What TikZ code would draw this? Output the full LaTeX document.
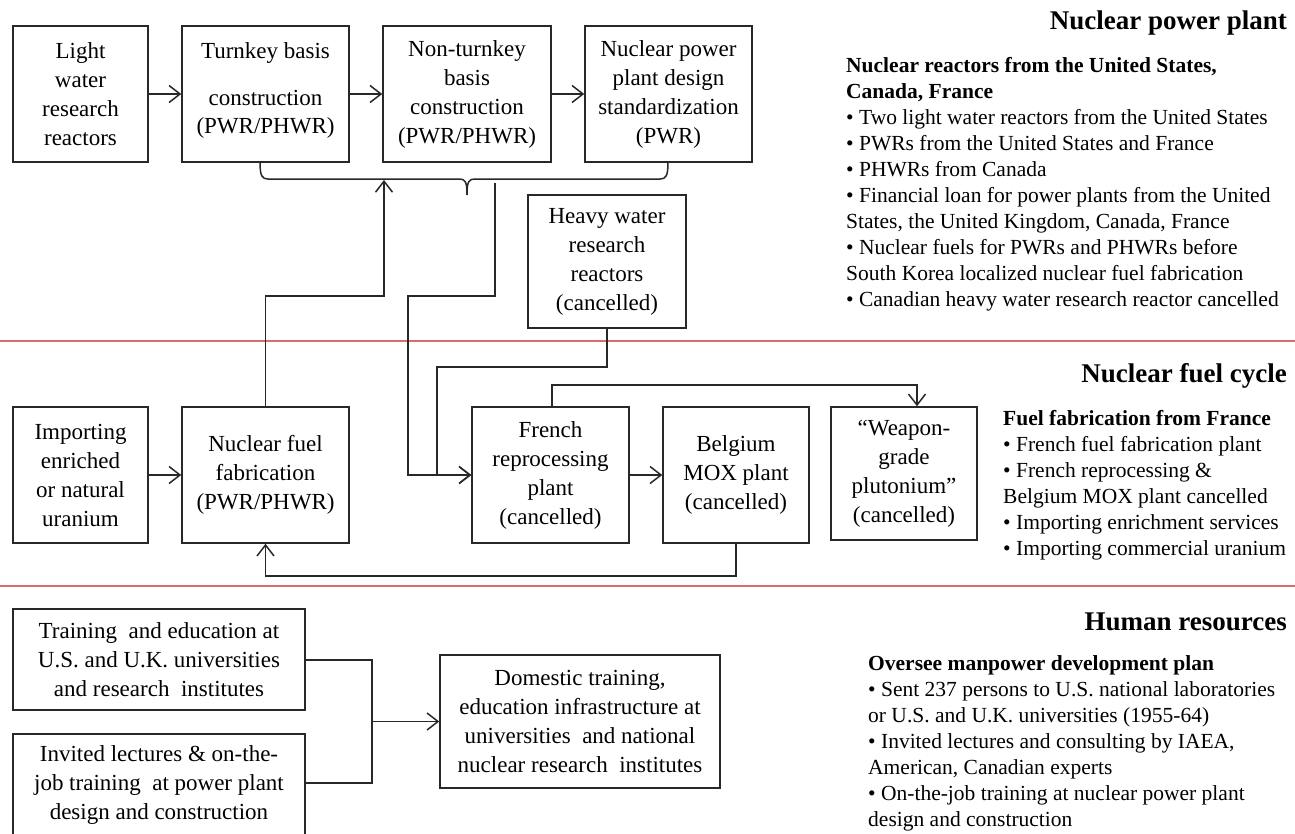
\documentclass[tikz,border=0pt]{standalone}
\usepackage{fontspec}
\setmainfont{Liberation Serif}
\usetikzlibrary{arrows.meta}
\definecolor{linegray}{RGB}{40,40,40}
\definecolor{seprule}{RGB}{214,110,110}
\begin{document}
\begin{tikzpicture}[x=1pt,y=-1pt,
  box/.style={draw=linegray,line width=1.5pt,inner sep=2pt,align=center,
    font=\fontsize{23}{29}\selectfont,minimum width=#1},
  box/.default=150pt,
  conn/.style={draw=linegray,line width=1.5pt},
  arr/.style={conn,-{Straight Barb[length=11pt,width=17pt,line width=1.5pt]}},
  sepline/.style={draw=seprule,line width=1.2pt},
  head/.style={font=\fontsize{27}{32}\selectfont\bfseries,anchor=base east,inner sep=0pt},
  notes/.style={font=\fontsize{21.5}{26}\selectfont,anchor=north west,inner sep=0pt,align=left}]
\useasboundingbox (0,0) rectangle (1295,833);

% section separators
\draw[sepline] (0,341) -- (1295,341);
\draw[sepline] (0,586) -- (1295,586);

% nuclear power plant row
\node[box=135pt,minimum height=136pt] (lw)  at (80.5,94)  {Light\\water\\research\\reactors};
\node[box=167pt,minimum height=136pt] (tk)  at (265.5,94) {Turnkey basis\\[18pt]construction\\[-1pt](PWR/PHWR)\\[-18pt]\mbox{}};
\node[box=168pt,minimum height=136pt] (nt)  at (467,94)   {Non-turnkey\\basis\\construction\\(PWR/PHWR)};
\node[box=167pt,minimum height=136pt] (std) at (668.5,94) {Nuclear power\\plant design\\standardization\\(PWR)};
\node[box=158pt,minimum height=133pt] (hw)  at (607,261.5) {Heavy water\\research\\reactors\\(cancelled)};

% nuclear fuel cycle row
\node[box=135pt,minimum height=136pt] (imp) at (80.5,475)  {Importing\\enriched\\or natural\\uranium};
\node[box=167pt,minimum height=136pt] (fab) at (265.5,475) {Nuclear fuel\\fabrication\\(PWR/PHWR)};
\node[box=157pt,minimum height=136pt] (fr)  at (550.5,475) {French\\reprocessing\\plant\\(cancelled)};
\node[box=146pt,minimum height=136pt] (be)  at (736,475)   {Belgium\\MOX plant\\(cancelled)};
\node[box=146pt,minimum height=133pt] (wp)  at (904,473.5) {“Weapon-\\grade\\plutonium”\\(cancelled)};

% human resources row
\node[box=292pt,minimum height=101pt] (tr)  at (159,659.5) {Training\ \ and education at\\U.S. and U.K. universities\\and research\ \ institutes};
\node[box=292pt,minimum height=101pt] (inv) at (159,784.5) {Invited lectures \& on-the-\\job training\ \ at power plant\\design and construction};
\node[box=280pt,minimum height=133pt] (dom) at (580,721.5) {Domestic training,\\education infrastructure at\\universities\ \ and national\\nuclear research\ \ institutes};

% brace gathering the reactor construction stages
\coordinate (brL) at (260,162);
\coordinate (brR) at (668,162);
\coordinate (brTip) at (467,195);
\coordinate (brIn) at (384,180);
\coordinate (brOut) at (495,183);
\draw[conn] (brL) .. controls (260,176) and (262,179) .. (268,179) -- (459,179)
  .. controls (465,179) and (467,181) .. (brTip)
  .. controls (467,181) and (469,179) .. (475,179) -- (660,179)
  .. controls (666,179) and (668,176) .. (brR);

% connectors
\draw[arr] (lw.east) -- (tk.west);
\draw[arr] (tk.east) -- (nt.west);
\draw[arr] (nt.east) -- (std.west);
\draw[arr] (fab.north) |- (384,296) -- (brIn);
\draw[arr] (brOut) -- (495,296) -| (408,475) -- (fr.west);
\draw[arr] (hw.south) |- (437,367) |- (fr.west);
\draw[arr] (imp.east) -- (fab.west);
\draw[arr] (fr.east) -- (be.west);
\draw[arr] ([xshift=1.5pt]fr.north) |- (917,385) -- ([xshift=13pt]wp.north);
\draw[arr] (be.south) |- (265.5,576) -- (fab.south);
\draw[conn] (tr.east |- 0,660) -| (372,722);
\draw[conn] (inv.east |- 0,783) -| (372,722);
\draw[arr] (372,721.5) -- (dom.west);

% section headings and notes
\node[head] (h1) at (1287,29) {Nuclear power plant};
\node[notes] (n1) at (846,53.8) {\strut\textbf{Nuclear reactors from the United States,}\\
\textbf{Canada, France}\\
• Two light water reactors from the United States\\
• PWRs from the United States and France\\
• PHWRs from Canada\\
• Financial loan for power plants from the United\\
States, the United Kingdom, Canada, France\\
• Nuclear fuels for PWRs and PHWRs before\\
South Korea localized nuclear fuel fabrication\\
• Canadian heavy water research reactor cancelled};

\node[head] (h2) at (1287,382) {Nuclear fuel cycle};
\node[notes] (n2) at (1003,406.8) {\strut\textbf{Fuel fabrication from France}\\
• French fuel fabrication plant\\
• French reprocessing \&\\
Belgium MOX plant cancelled\\
• Importing enrichment services\\
• Importing commercial uranium};

\node[head] (h3) at (1287,630) {Human resources};
\node[notes] (n3) at (868,651.8) {\strut\textbf{Oversee manpower development plan}\\
• Sent 237 persons to U.S. national laboratories\\
or U.S. and U.K. universities (1955-64)\\
• Invited lectures and consulting by IAEA,\\
American, Canadian experts\\
• On-the-job training at nuclear power plant\\
design and construction};
\end{tikzpicture}
\end{document}
